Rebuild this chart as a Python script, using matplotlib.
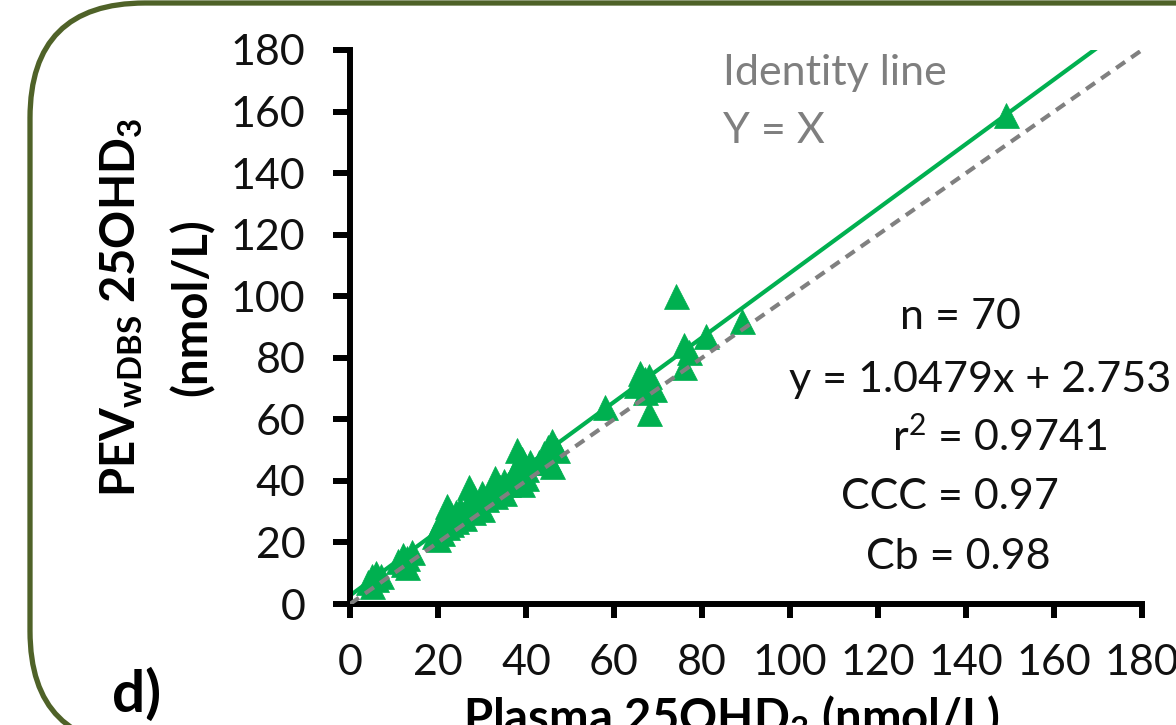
import matplotlib
matplotlib.use("Agg")
import matplotlib.pyplot as plt
import matplotlib.patches as patches

plt.rcParams['font.family'] = ['Lato', 'DejaVu Sans']
plt.rcParams['mathtext.default'] = 'regular'

# Plasma vs PEV values (nmol/L)
plasma = [4, 5, 5, 6, 6, 7, 11, 12, 12, 13, 13, 14, 19, 20, 20, 21, 21, 22, 22, 23,
          23, 24, 24, 25, 26, 27, 27, 28, 28, 29, 30, 30, 31, 32, 33, 33, 34, 35, 35, 36,
          37, 38, 38, 39, 39, 40, 40, 41, 43, 44, 45, 45, 46, 46, 47, 58, 65, 66, 67, 67,
          68, 68, 69, 74, 76, 76, 77, 81, 89, 149]
pev = [7, 9, 6, 10, 8, 9, 14, 16, 13, 15, 12, 17, 22, 25, 21, 27, 23, 32, 25, 29,
       26, 30, 27, 31, 28, 38, 33, 30, 35, 32, 36, 31, 34, 37, 41, 35, 38, 36, 40, 39,
       42, 50, 45, 39, 47, 44, 41, 46, 46, 49, 51, 47, 53, 45, 50, 64, 71, 75, 69, 73,
       62, 74, 70, 100, 84, 77, 82, 87, 92, 159]

slope = 1.0479
intercept = 2.753
fit_x = [0, 180]
ticks = [0, 20, 40, 60, 80, 100, 120, 140, 160, 180]

stats = [("n = 70", 960, 317),
         ("y = 1.0479x + 2.753", 980, 380),
         ("r$^2$ = 0.9741", 1000, 437),
         ("CCC = 0.97", 950, 497),
         ("Cb = 0.98", 958, 557)]

green = '#00B050'
grey = '#808080'
olive = '#4F6228'

fig = plt.figure(figsize=(11.76, 7.25), dpi=100)

# background layer in pixel coordinates
bg = fig.add_axes([0, 0, 1, 1], zorder=0)
bg.set_xlim(0, 1176)
bg.set_ylim(725, 0)
bg.axis('off')
bg.add_patch(patches.FancyBboxPatch((30, 3), 1400, 743,
                                    boxstyle="round,pad=0,rounding_size=115",
                                    edgecolor=olive, facecolor='white', linewidth=3.8))

ax = fig.add_axes([350 / 1176, 121 / 725, 792 / 1176, 554 / 725], zorder=1)
ax.patch.set_alpha(0)

ax.plot(fit_x, [slope * v + intercept for v in fit_x], color=green, lw=3, zorder=2)
ax.plot(plasma, pev, linestyle='none', marker='^', ms=18, color=green,
        markeredgecolor=green, markeredgewidth=0.5, zorder=3)
ax.plot([0, 180], [0, 180], color=grey, lw=3, linestyle=(0, (2.6, 1.8)), zorder=4)

ax.set_xlim(0, 180)
ax.set_ylim(0, 180)
ax.set_xticks(ticks)
ax.set_yticks(ticks)
for side in ['top', 'right']:
    ax.spines[side].set_visible(False)
for side in ['left', 'bottom']:
    ax.spines[side].set_linewidth(4.3)
ax.tick_params(axis='x', length=10, width=4.3, pad=19, labelsize=31, color='black')
ax.tick_params(axis='y', length=12, width=4.3, pad=20, labelsize=31, color='black')
for lab in ax.get_xticklabels() + ax.get_yticklabels():
    lab.set_color('#111111')

# axis titles
bg.text(122, 307, "PEV$_{wDBS}$ 25OHD$_3$", rotation=90, ha='center', va='center',
        fontsize=34, fontweight='bold')
bg.text(192, 307, "(nmol/L)", rotation=90, ha='center', va='center',
        fontsize=34, fontweight='bold')
bg.text(731, 733, "Plasma 25OHD$_3$ (nmol/L)", ha='center', va='baseline',
        fontsize=34, fontweight='bold')
bg.text(112, 712, "d)", ha='left', va='baseline', fontsize=42, fontweight='bold')

# identity line label
bg.text(723, 85, "Identity line", ha='left', va='baseline', fontsize=31, color='#7F7F7F')
bg.text(723, 143, "Y = X", ha='left', va='baseline', fontsize=31, color='#7F7F7F')

for txt, px, py in stats:
    bg.text(px, py, txt, ha='center', va='center', fontsize=31, color='#111111')

fig.savefig("out.png", dpi=100)
